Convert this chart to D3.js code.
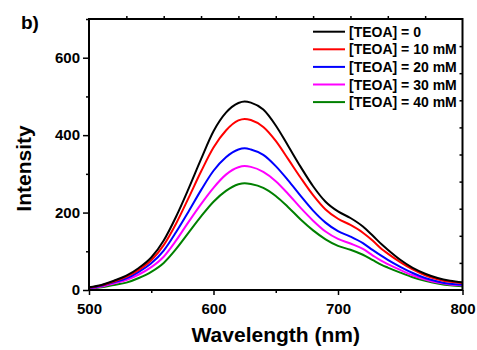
<!DOCTYPE html>
<html><head><meta charset="utf-8">
<script src="https://cdn.jsdelivr.net/npm/d3@7"></script>
<style>
body{margin:0;background:#fff;}
text{font-family:"Liberation Sans",Arial,sans-serif;font-weight:bold;}
</style></head>
<body><svg id="c" width="477" height="350"></svg>
<script>
const wavelengths = [500,510,520,530,540,550,560,570,580,590,600,610,620,625,630,640,650,660,670,680,690,700,710,720,728,735,740,750,760,770,780,790,800];
const teoa0  = [7,13,24,37,57,84,128,190,262,338,410,458,483,487,484,466,425,372,318,268,228,203,186,164,140,118,104,78,57,42,31,24,20];
const teoa10 = [6,12,22,34,52,77,116,172,238,306,368,412,438,442,439,421,385,338,290,245,208,184,168,148,127,106,94,72,53,38,28,21,18];
const teoa20 = [5,11,20,30,47,69,102,150,203,258,308,343,363,366,363,349,320,283,243,205,174,152,138,121,103,88,78,60,44,31,22,16,14];
const teoa30 = [4,9,17,26,40,59,86,128,176,222,264,298,317,320,318,305,281,248,212,179,151,132,120,106,89,75,67,52,38,27,19,14,12];
const teoa40 = [3,7,13,19,31,47,70,106,148,190,228,256,273,276,274,264,243,214,182,154,131,114,104,91,77,65,58,45,33,24,17,12,10];
const seriesLabels = ["[TEOA] = 0","[TEOA] = 10 mM","[TEOA] = 20 mM","[TEOA] = 30 mM","[TEOA] = 40 mM"];
const seriesColors = ["#000000","#ff0000","#0000ff","#ff00ff","#008000"];
const xTicks = [500,600,700,800];
const yTicks = [0,200,400,600];

const series = [teoa0,teoa10,teoa20,teoa30,teoa40];
const svg = d3.select("#c");
const L=89, R=462.5, T=19, B=290;
const x = d3.scaleLinear().domain([500,800]).range([L,R]);
const y = d3.scaleLinear().domain([0,700]).range([B,T]);

// curves
const line = d3.line().x((d,i)=>x(wavelengths[i])).y(d=>y(d)).curve(d3.curveMonotoneX);
series.slice().reverse().forEach((s,k)=>{
  const i = series.length-1-k;
  svg.append("path").attr("d",line(s)).attr("fill","none")
     .attr("stroke",seriesColors[i]).attr("stroke-width",2);
});

function styleAxis(g){
  g.select(".domain").remove();
  g.selectAll("line").attr("stroke","#000").attr("stroke-width",1.5);
  g.selectAll("text").attr("font-size",15).attr("fill","#000")
   .attr("font-family","Liberation Sans, Arial, sans-serif").attr("font-weight","bold");
}
// bottom minor
svg.append("g").attr("transform",`translate(0,${B})`)
  .call(d3.axisBottom(x).tickValues([550,650,750]).tickSize(3).tickFormat("")).call(styleAxis);
// bottom major
svg.append("g").attr("transform",`translate(0,${B})`)
  .call(d3.axisBottom(x).tickValues(xTicks).tickSize(5).tickPadding(8).tickFormat(d3.format("d"))).call(styleAxis);
// left minor
svg.append("g").attr("transform",`translate(${L},0)`)
  .call(d3.axisLeft(y).tickValues([100,300,500,700]).tickSize(3).tickFormat("")).call(styleAxis);
// left major
svg.append("g").attr("transform",`translate(${L},0)`)
  .call(d3.axisLeft(y).tickValues(yTicks).tickSize(6).tickPadding(3).tickFormat(d3.format("d"))).call(styleAxis);
// top ticks
svg.append("g").attr("transform",`translate(0,${T})`)
  .call(d3.axisTop(x).tickValues(d3.range(530,800,30)).tickSize(3).tickFormat("")).call(styleAxis);
// right ticks (inward)
svg.append("g").attr("transform",`translate(${R},0)`)
  .call(d3.axisLeft(y).tickValues(d3.range(70,700,70)).tickSize(-3).tickFormat("")).call(styleAxis)
  .selectAll("line").attr("x2",-3);

// frame
svg.append("rect").attr("x",L).attr("y",T).attr("width",R-L).attr("height",B-T)
  .attr("fill","none").attr("stroke","#000").attr("stroke-width",2);

// titles
svg.append("text").attr("x",(L+R)/2).attr("y",342).attr("text-anchor","middle")
  .attr("font-size",21).text("Wavelength (nm)");
svg.append("text").attr("transform",`translate(31,${(T+B)/2+14}) rotate(-90)`).attr("text-anchor","middle")
  .attr("font-size",21).text("Intensity");
svg.append("text").attr("x",21).attr("y",29).attr("font-size",19).text("b)");

// legend
const lg = svg.append("g");
seriesLabels.forEach((lab,i)=>{
  const yy = 31.7 + i*17.6;
  lg.append("line").attr("x1",313).attr("x2",345).attr("y1",yy).attr("y2",yy)
    .attr("stroke",seriesColors[i]).attr("stroke-width",2);
  lg.append("text").attr("x",349).attr("y",yy).attr("dy","0.36em").attr("font-size",14).text(lab);
});
</script></body></html>
